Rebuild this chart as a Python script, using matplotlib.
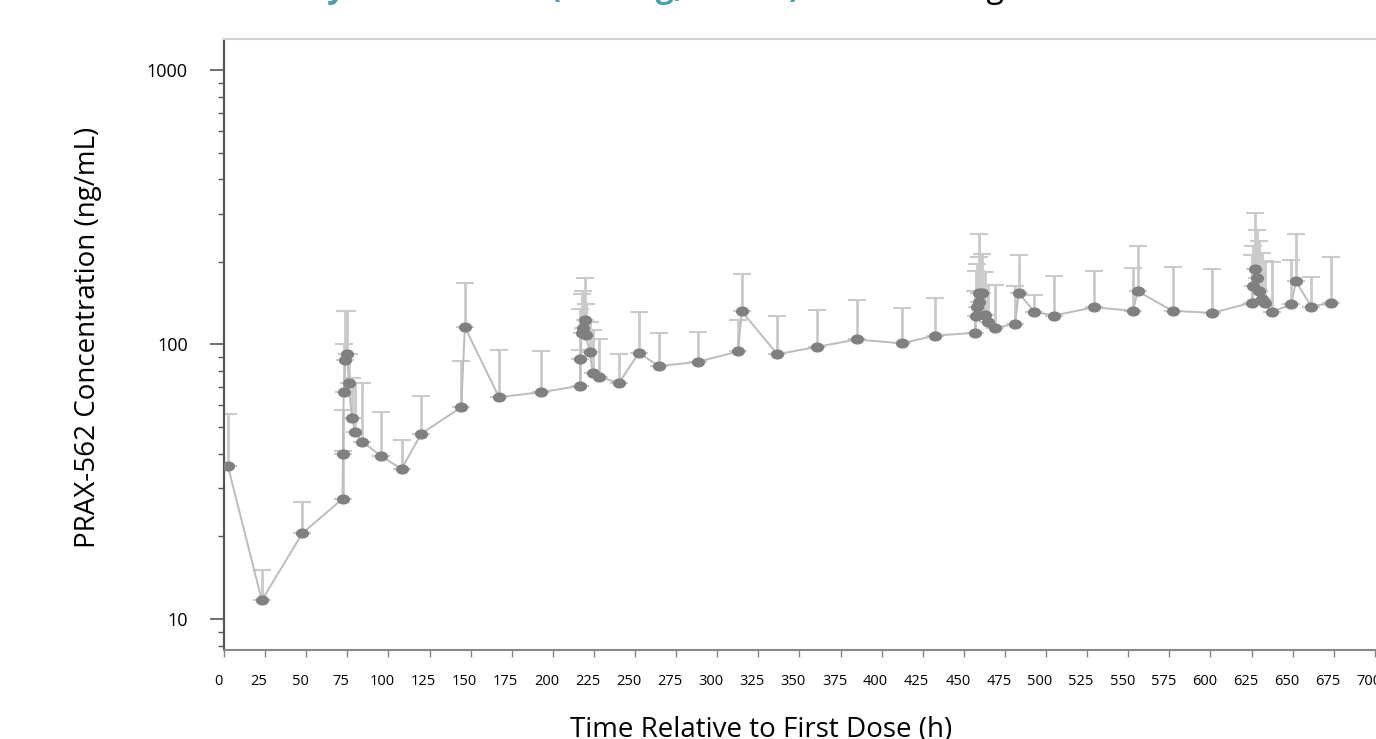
import matplotlib
matplotlib.use("Agg")
import numpy as np
from matplotlib import pyplot as plt
from matplotlib.path import Path
from matplotlib.ticker import LogLocator, NullFormatter, FixedLocator
from matplotlib.transforms import ScaledTranslation

"""Mean PRAX-562 plasma concentration over time (log scale, upper SD bars)"""

# Time after first dose (h)
time_h = [2.4, 23, 47.6,
          72.1, 72.4, 72.8, 73.8, 75.0, 75.8, 77.8, 79.9, 84.0,
          95.7, 108, 120, 144.3, 146.5, 167.3, 192.7,
          216.5, 216.8, 217.5, 218.5, 219.3, 220.0, 222.6, 224.2, 228.4,
          240.2, 252.4, 264.4, 288.4, 312.6, 315.0, 336.6, 360.6, 384.8,
          412.2, 432.7,
          456.9, 457.3, 457.9, 459.0, 459.3, 460.9, 463.0, 464.8, 469.0,
          481.1, 483.4, 492.9, 504.9, 529.1, 553.0, 555.7, 577.0, 601.2,
          625.2, 626.0, 627.3, 628.2, 629.7, 631.3, 633.4, 637.2,
          649.2, 652.0, 661.4, 673.4]

# Mean concentration (ng/mL)
conc_mean = [36, 11.7, 20.5,
             27.4, 40, 67, 88, 92, 72.3, 54, 47.8, 44.3,
             39.2, 35.2, 47.3, 59.1, 115.6, 64.3, 67,
             70.7, 88.5, 110.3, 115, 123.3, 107.9, 93.8, 78.9, 76.3,
             72.3, 93.3, 83.4, 86.5, 94.3, 131.9, 92.2, 98, 104.3,
             101, 107.8,
             110.3, 126.8, 136.7, 142.6, 154.3, 154.3, 128.3, 120.5, 115.1,
             118.6, 153.8, 131.5, 127.5, 136.7, 132.6, 156.3, 132.6, 130.4,
             142.2, 164, 188.6, 175.4, 156.3, 146.8, 141.4, 131.5,
             139.9, 169.7, 137.5, 141.9]

# Mean + SD (ng/mL), top of each error bar
conc_upper = [56, 15.1, 26.6,
              40.9, 57.6, 100.6, 132, 132, 92.5, 75.6, 72.3, 72.3,
              57, 44.7, 64.8, 87, 167, 95.6, 95,
              95.6, 134.9, 153, 156, 174, 140.7, 121, 113, 105,
              92, 130.8, 110.3, 110.9, 122.4, 180.7, 126.5, 133.4, 144.7,
              136, 148,
              156.3, 185, 197, 208, 253, 214, 183, 165, 165,
              164, 212, 151.7, 178, 184.5, 190, 228, 192.3, 187.6,
              211, 228, 302, 262, 238, 216, 202, 200.5,
              204, 253, 176.4, 207.5]

x_ticks = list(range(0, 701, 25))

t = np.array(time_h)
m = np.array(conc_mean)
upper = np.array(conc_upper) - m
lower = np.zeros_like(m)

# wide oval marker like the source
circ = Path.unit_circle()
oval = Path(circ.vertices * np.array([1.35, 1.0]), circ.codes)

fig = plt.figure(figsize=(13.76, 7.39), dpi=100)
ax = fig.add_axes([224 / 1376, 1 - 650 / 739, 1 - 224 / 1376 + 0.002, (650 - 39) / 739])

ax.errorbar(t, m, yerr=[lower, upper], fmt='none', ecolor='#cacaca',
            elinewidth=2, capsize=6.5, capthick=1.5, zorder=1)
ax.plot(t, m, color='#bcbcbc', lw=1.4, zorder=2)
ax.plot(t, m, linestyle='none', marker=oval, markersize=8.5,
        markerfacecolor='#808080', markeredgecolor='#808080', zorder=3)

ax.set_yscale('log')
ax.set_ylim(7.71, 1297)
ax.set_xlim(0, 702.4)

ax.yaxis.set_major_locator(FixedLocator([10, 100, 1000]))
ax.set_yticklabels(['10', '100', '1000'])
ax.yaxis.set_minor_locator(LogLocator(base=10, subs=np.arange(2, 10)))
ax.yaxis.set_minor_formatter(NullFormatter())
ax.set_xticks(x_ticks)

ax.tick_params(axis='y', which='major', length=10, width=1.2, color='#555555',
               labelsize=13, pad=16)
ax.tick_params(axis='y', which='minor', length=4, width=1, color='#555555')
ax.tick_params(axis='x', which='major', length=5, width=1, color='#888888',
               labelsize=10.5, pad=12)
for lab in ax.get_yticklabels() + ax.get_xticklabels():
    lab.set_family('Open Sans')

shift = ScaledTranslation(-6 / 100, 0, fig.dpi_scale_trans)
for lab in ax.get_xticklabels():
    lab.set_transform(lab.get_transform() + shift)

for side in ['top', 'right']:
    ax.spines[side].set_color('#d0d0d0')
    ax.spines[side].set_linewidth(1.5)
ax.spines['left'].set_color('#555555')
ax.spines['left'].set_linewidth(1.6)
ax.spines['bottom'].set_color('#888888')
ax.spines['bottom'].set_linewidth(1.5)

fig.text(88 / 1376, 1 - 337 / 739, "PRAX-562 Concentration (ng/mL)", rotation=90,
         ha='center', va='center', fontsize=20, family='Open Sans')
fig.text(761 / 1376, 1 - 737 / 739, "Time Relative to First Dose (h)",
         ha='center', va='baseline', fontsize=20, family='Open Sans')

# title is cut off at the top edge of the slide
fig.text(800 / 1376, 1 + 3 / 739, "Day 1\u201314 Cohort (120 mg, N = 10)", ha='right',
         va='baseline', fontsize=23, fontweight='bold', color='#45a1ab', family='Open Sans')
fig.text(1005 / 1376, 1 + 3 / 739, "Dosing", ha='right', va='baseline',
         fontsize=23, color='black', family='Open Sans')

fig.savefig("out.png", dpi=100)
